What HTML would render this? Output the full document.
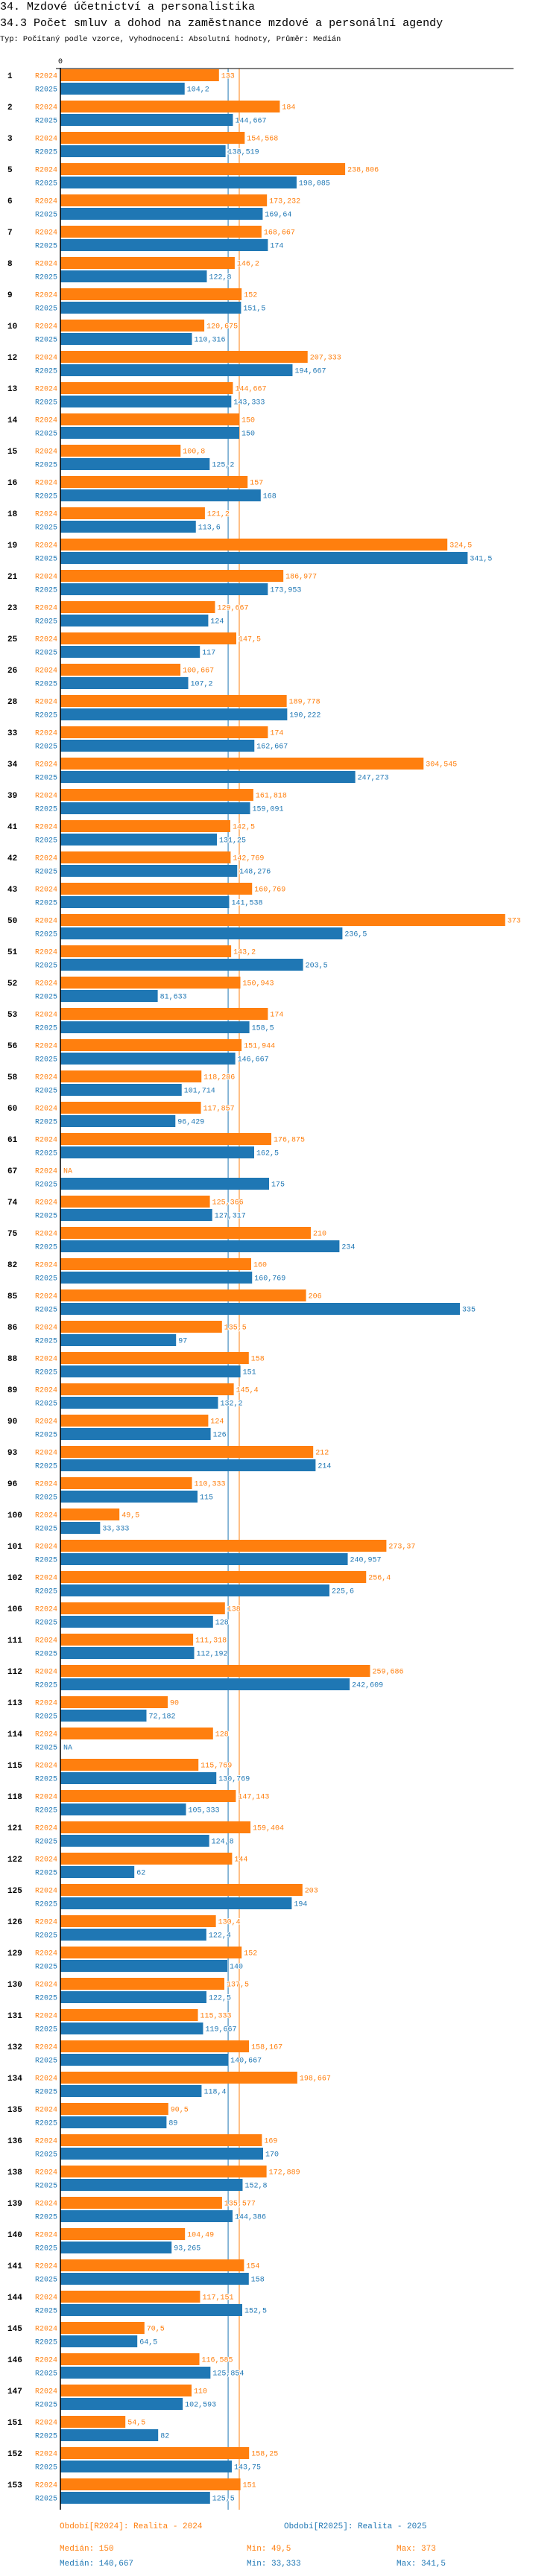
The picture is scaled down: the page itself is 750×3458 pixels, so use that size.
<!DOCTYPE html>
<html>
<head>
<meta charset="utf-8">
<style>
  html,body{margin:0;padding:0;background:#fff;}
  body{width:750px;height:3458px;overflow:hidden;font-family:"Liberation Mono","DejaVu Sans Mono",monospace;}
  svg{display:block;}
  .val{paint-order:stroke;stroke:#fff;stroke-width:2px;stroke-linejoin:round;}
</style>
</head>
<body>
<svg id="chart" width="750" height="3458" viewBox="0 0 750 3458" xmlns="http://www.w3.org/2000/svg" font-family="Liberation Mono, DejaVu Sans Mono, monospace">
  <text x="0" y="13" font-size="15" fill="#000">34. Mzdové účetnictví a personalistika</text>
  <text x="0" y="35" font-size="15" fill="#000">34.3 Počet smluv a dohod na zaměstnance mzdové a personální agendy</text>
  <text x="0" y="55" font-size="10.3" fill="#000">Typ: Počítaný podle vzorce, Vyhodnocení: Absolutní hodnoty, Průměr: Medián</text>
  <g id="plot"></g>
  <g id="legend">
    <text x="80" y="3394" font-size="11" fill="#ff7f0e">Období[R2024]: Realita - 2024</text>
    <text x="381" y="3394" font-size="11" fill="#1f77b4">Období[R2025]: Realita - 2025</text>
    <text x="80" y="3424" font-size="11" fill="#ff7f0e">Medián: 150</text>
    <text x="331" y="3424" font-size="11" fill="#ff7f0e">Min: 49,5</text>
    <text x="532" y="3424" font-size="11" fill="#ff7f0e">Max: 373</text>
    <text x="80" y="3444" font-size="11" fill="#1f77b4">Medián: 140,667</text>
    <text x="331" y="3444" font-size="11" fill="#1f77b4">Min: 33,333</text>
    <text x="532" y="3444" font-size="11" fill="#1f77b4">Max: 341,5</text>
  </g>
</svg>
<script>
const categories = ["1","2","3","5","6","7","8","9","10","12","13","14","15","16","18","19","21","23","25","26","28","33","34","39","41","42","43","50","51","52","53","56","58","60","61","67","74","75","82","85","86","88","89","90","93","96","100","101","102","106","111","112","113","114","115","118","121","122","125","126","129","130","131","132","134","135","136","138","139","140","141","144","145","146","147","151","152","153"];
const seriesR2024 = [133,184,154.568,238.806,173.232,168.667,146.2,152,120.675,207.333,144.667,150,100.8,157,121.2,324.5,186.977,129.667,147.5,100.667,189.778,174,304.545,161.818,142.5,142.769,160.769,373,143.2,150.943,174,151.944,118.286,117.857,176.875,null,125.366,210,160,206,135.5,158,145.4,124,212,110.333,49.5,273.37,256.4,138,111.318,259.686,90,128,115.769,147.143,159.404,144,203,130.4,152,137.5,115.333,158.167,198.667,90.5,169,172.889,135.577,104.49,154,117.151,70.5,116.585,110,54.5,158.25,151];
const seriesR2025 = [104.2,144.667,138.519,198.085,169.64,174,122.8,151.5,110.316,194.667,143.333,150,125.2,168,113.6,341.5,173.953,124,117,107.2,190.222,162.667,247.273,159.091,131.25,148.276,141.538,236.5,203.5,81.633,158.5,146.667,101.714,96.429,162.5,175,127.317,234,160.769,335,97,151,132.2,126,214,115,33.333,240.957,225.6,128,112.192,242.609,72.182,null,130.769,105.333,124.8,62,194,122.4,140,122.5,119.667,140.667,118.4,89,170,152.8,144.386,93.265,158,152.5,64.5,125.854,102.593,82,143.75,125.5];
const medians = [150, 140.667];
const seriesNames = ["R2024","R2025"];
const tickValues = [0];

const NS = "http://www.w3.org/2000/svg";
const X0 = 81, PXU = 1.6, Y0 = 101, PITCH = 42;
const xScale = v => X0 + v * PXU;
const yScale = i => Y0 + i * PITCH;
const colors = ["#ff7f0e", "#1f77b4"];
const plot = document.getElementById("plot");
function mk(tag, attrs) {
  const e = document.createElementNS(NS, tag);
  for (const k in attrs) e.setAttribute(k, attrs[k]);
  return e;
}
function fmt(v) { return v === null ? "NA" : String(v).replace(".", ","); }

const yEnd = yScale(categories.length - 1) + 34;

medians.forEach((m, s) => {
  const ln = mk("line", {x1: xScale(m), x2: xScale(m), y1: 92, y2: yEnd, stroke: colors[s], "stroke-width": 1});
  
  
  plot.appendChild(ln);
});

tickValues.forEach(t => {
  const tx = mk("text", {x: xScale(t), y: 85, "font-size": 10, "text-anchor": "middle", fill: "#000"});
  tx.textContent = String(t);
  
  
  plot.appendChild(tx);
});

categories.forEach((cat, i) => {
  const c = yScale(i);
  const g = mk("g", {});
  
  
  const gl = mk("text", {x: 10, y: c + 4, "font-size": 11, "font-weight": "bold", fill: "#000"});
  gl.textContent = cat;
  
  
  g.appendChild(gl);
  [seriesR2024, seriesR2025].forEach((ser, s) => {
    const v = ser[i];
    const top = s === 0 ? c - 8 : c + 10;
    const mid = top + 8;
    const sl = mk("text", {x: 77, y: mid + 3.5, "font-size": 10, "text-anchor": "end", fill: colors[s]});
    sl.textContent = seriesNames[s];
    
    
    g.appendChild(sl);
    let endX = X0 + 1;
    if (v !== null) {
      const r = mk("rect", {x: X0, y: top, width: xScale(v) - X0, height: 16, fill: colors[s]});
      
      
      g.appendChild(r);
      endX = xScale(v);
    }
    const vl = mk("text", {x: endX + 3, y: mid + 3.5, "font-size": 10, fill: colors[s], "class": "val"});
    vl.textContent = fmt(v);
    
    
    g.appendChild(vl);
  });
  plot.appendChild(g);
});

const topAxis = mk("line", {x1: 75, x2: 689, y1: 92, y2: 92, stroke: "#000", "stroke-width": 1});


plot.appendChild(topAxis);
const yAxis = mk("line", {x1: X0, x2: X0, y1: 91, y2: yEnd, stroke: "#000", "stroke-width": 1.5});


plot.appendChild(yAxis);
</script>
</body>
</html>
